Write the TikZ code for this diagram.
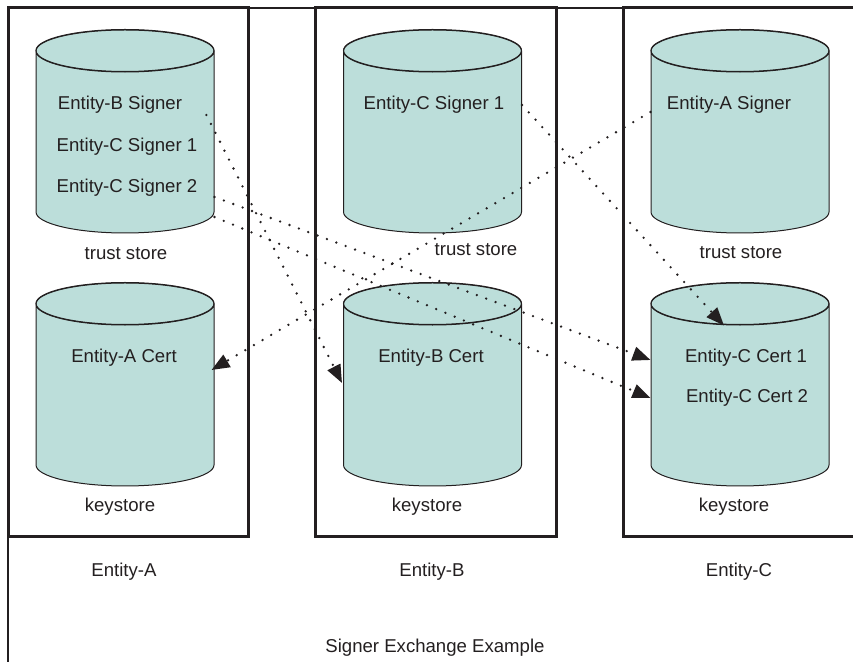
\documentclass[tikz,border=0pt]{standalone}
\usepackage{fontspec}
\setmainfont{Liberation Sans}
\usetikzlibrary{shapes.geometric,arrows.meta,calc}
\definecolor{storefill}{RGB}{188,222,218}
\definecolor{linedark}{RGB}{35,31,32}

\begin{document}
\begin{tikzpicture}[x=0.5pt,y=-0.5pt,
  every node/.style={font=\fontsize{9.3}{11}\selectfont, inner sep=0pt, text=linedark},
  store/.style={cylinder, shape border rotate=90, draw=linedark, line width=0.5pt,
    fill=storefill, minimum width=89pt, minimum height=101.5pt, aspect=0.236,
    anchor=shape center},
  rim/.style={draw=linedark, line width=0.5pt},
  frame/.style={draw=linedark, line width=1.5pt},
  flow/.style={linedark, line width=1.3pt, line cap=round, dash pattern=on 0pt off 5pt,
    -{Triangle[length=9pt,width=7pt]}}]
  \useasboundingbox (0,0) rectangle (853,662);
  \clip (0,0) rectangle (853,662);

  % FRAMES
  \draw[frame, line width=1pt] (8,8) rectangle (880,700);
  \draw[frame] (8,8) rectangle (248,537);
  \draw[frame] (315,8) rectangle (556,537);
  \draw[frame] (623,8) rectangle (880,537);

  % STORES
  \node[store] (ats) at (125,131.5) {\rule{89pt}{0pt}};
  \node[store] (aks) at (125,384.5) {\rule{89pt}{0pt}};
  \node[store] (bts) at (432.5,131.5) {\rule{89pt}{0pt}};
  \node[store] (bks) at (432.5,384.5) {\rule{89pt}{0pt}};
  \node[store] (cts) at (740,131.5) {\rule{89pt}{0pt}};
  \node[store] (cks) at (740,384.5) {\rule{89pt}{0pt}};
  \foreach \s in {ats,aks,bts,bks,cts,cks}
    \draw[rim] ($(\s.north)+(0,21)$) ellipse [x radius=44.5pt, y radius=10.5pt];

  % ENTRIES
  \node (asig1) at (120,105) {Entity-B Signer};
  \node (asig2) at (127,147) {Entity-C Signer 1};
  \node (asig3) at (127,188) {Entity-C Signer 2};
  \node (bsig)  at (434,105) {Entity-C Signer 1};
  \node (csig)  at (729,105) {Entity-A Signer};
  \node (acert) at (124,358) {Entity-A Cert};
  \node (bcert) at (431,358) {Entity-B Cert};
  \node (ccert1) at (746,358) {Entity-C Cert 1};
  \node (ccert2) at (747,398) {Entity-C Cert 2};

  % NOTES
  \node (atl) at (126,254) {trust store};
  \node (btl) at (476,250) {trust store};
  \node (ctl) at (741,253) {trust store};
  \node (akl) at (120,507) {keystore};
  \node (bkl) at (427,507) {keystore};
  \node (ckl) at (734,507) {keystore};
  \node (ea) at (124,572) {Entity-A};
  \node (eb) at (432,572) {Entity-B};
  \node (ec) at (739,572) {Entity-C};
  \node (title) at (435,648) {Signer Exchange Example};

  % ARROWS
  \draw[flow] ($(asig1.east)+(24,10)$) -- ($(bks.west |- bcert)+(-1,25)$);
  \draw[flow] ($(ats.east |- asig3)+(0,9)$) -- ($(cks.west |- ccert1)+(0,2)$);
  \draw[flow] ($(ats.east |- asig3)+(0,29)$) -- ($(cks.west |- ccert2)$);
  \draw[flow] (bts.east |- bsig) -- ($(cks.north)+(-16,43)$);
  \draw[flow] ($(cts.west |- csig)+(0,7)$) -- ($(aks.east |- acert)+(-3,12)$);
\end{tikzpicture}
\end{document}
